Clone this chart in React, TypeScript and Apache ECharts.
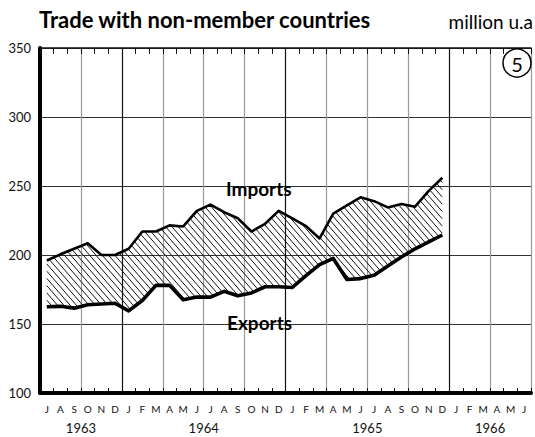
import React, { useEffect, useRef } from "react";
import * as echarts from "echarts";

// Month letters, Jul 1963 .. Jun 1966
const months = [
  "J", "A", "S", "O", "N", "D",
  "J", "F", "M", "A", "M", "J", "J", "A", "S", "O", "N", "D",
  "J", "F", "M", "A", "M", "J", "J", "A", "S", "O", "N", "D",
  "J", "F", "M", "A", "M", "J",
];
// year label placed at month offset (from Jul 1963)
const yearTicks = [3, 12, 24, 33];
const yearNames = ["1963", "1964", "1965", "1966"];

// Monthly values, Jul 1963 .. Dec 1965 (million u.a)
const imports = [
  196, 200.5, 204.5, 208.5, 200, 200,
  204.5, 217, 217, 221.5, 220.7, 232, 236.5, 231, 226.6, 217, 222.6, 232,
  226.5, 221, 212, 230, 236, 241.8, 239, 234.5, 237, 235, 246.5, 256,
];
const exportsV = [
  162.5, 162.8, 161.5, 164, 164.5, 165,
  159.5, 167, 178, 178, 167.5, 169.6, 169.5, 173.7, 170.5, 172.5, 177, 177,
  176.5, 185, 193, 197.5, 182.2, 182.9, 185.3, 192, 198.5, 204.5, 209.5, 214.5,
];

const FONT = "Lato, 'Open Sans', sans-serif";
const HATCH_GAP = 6.3;
const HATCH_SLOPE = 1.15;

function interp(p: number[][], x: number): number {
  if (x <= p[0][0]) return p[0][1];
  for (let k = 0; k < p.length - 1; k++) {
    const a = p[k], b = p[k + 1];
    if (x >= a[0] && x <= b[0]) {
      const t = (x - a[0]) / (b[0] - a[0] || 1);
      return a[1] + t * (b[1] - a[1]);
    }
  }
  return p[p.length - 1][1];
}

function hatchItem(params: any, api: any) {
  const top = imports.map((v, i) => api.coord([i + 0.5, v]));
  const bot = exportsV.map((v, i) => api.coord([i + 0.5, v]));
  const x0 = top[0][0];
  const x1 = top[top.length - 1][0];
  let minT = Infinity, maxB = -Infinity;
  top.forEach((p: number[]) => (minT = Math.min(minT, p[1])));
  bot.forEach((p: number[]) => (maxB = Math.max(maxB, p[1])));
  const yRef = 0;
  const children: any[] = [];
  const cmin = Math.floor((x0 - (maxB - yRef) / HATCH_SLOPE) / HATCH_GAP) * HATCH_GAP;
  const cmax = x1 - (minT - yRef) / HATCH_SLOPE;
  const step = 0.25;
  for (let c = cmin; c <= cmax; c += HATCH_GAP) {
    const xa = Math.max(x0, c + (minT - yRef) / HATCH_SLOPE - 1);
    const xb = Math.min(x1, c + (maxB - yRef) / HATCH_SLOPE + 1);
    let start: number[] | null = null;
    let last: number[] | null = null;
    for (let x = xa; x <= xb + 1e-9; x += step) {
      const y = yRef + HATCH_SLOPE * (x - c);
      const inside = y >= interp(top, x) + 0.8 && y <= interp(bot, x) - 1;
      if (inside) {
        if (!start) start = [x, y];
        last = [x, y];
      } else if (start && last) {
        children.push([start, last]);
        start = null;
        last = null;
      }
    }
    if (start && last) children.push([start, last]);
  }
  return {
    type: "group",
    children: children.map((s) => ({
      type: "line",
      shape: { x1: s[0][0], y1: s[0][1], x2: s[1][0], y2: s[1][1] },
      style: { stroke: "#111", lineWidth: 1 },
    })),
  };
}

export default function App() {
  const ref = useRef<HTMLDivElement>(null);
  useEffect(() => {
    document.body.style.margin = "0";
    if (!ref.current) return;
    const chart = echarts.init(ref.current, undefined, { renderer: "svg" });
    const pts = (arr: number[]) => arr.map((v, i) => [i + 0.5, v]);

    chart.setOption({
      animation: false,
      backgroundColor: "#ffffff",
      textStyle: { fontFamily: FONT },
      grid: { left: 40, right: 4, top: 48, bottom: 44 },
      xAxis: [
        {
          type: "value",
          min: 0,
          max: 36,
          interval: 3,
          position: "bottom",
          axisLine: { show: true, onZero: false, lineStyle: { color: "#000", width: 4 } },
          axisTick: { show: true, inside: true, length: 5, lineStyle: { color: "#000", width: 1 } },
          minorTick: { show: true, splitNumber: 3, length: 5, lineStyle: { color: "#000", width: 1 } },
          splitLine: {
            show: true,
            lineStyle: { color: ["#999", "#999", "#111", "#999"], width: 1.2 },
          },
          axisLabel: {
            show: true,
            margin: 28,
            fontSize: 13,
            color: "#111",
            fontFamily: FONT,
            formatter: (v: number) => {
              const k = yearTicks.indexOf(Math.round(v));
              return k >= 0 ? yearNames[k] : "";
            },
          },
        },
        {
          type: "value",
          min: 0,
          max: 36,
          interval: 1,
          position: "top",
          axisLine: { show: true, onZero: false, lineStyle: { color: "#111", width: 1.5 } },
          axisTick: { show: true, inside: true, length: 6, lineStyle: { color: "#111", width: 1 } },
          splitLine: { show: false },
          axisLabel: { show: false },
        },
        {
          type: "category",
          data: months,
          boundaryGap: true,
          position: "bottom",
          axisLine: { show: false },
          axisTick: { show: false },
          splitLine: { show: false },
          axisLabel: {
            interval: 0,
            margin: 11,
            fontSize: 10,
            color: "#111",
            fontFamily: FONT,
          },
        },
      ],
      yAxis: {
        type: "value",
        min: 100,
        max: 350,
        interval: 50,
        axisLine: { show: true, onZero: false, lineStyle: { color: "#000", width: 4 } },
        axisTick: { show: false },
        splitLine: { show: true, lineStyle: { color: "#333", width: 1.2 } },
        axisLabel: {
          margin: 9,
          fontSize: 13,
          color: "#111",
          fontFamily: FONT,
          verticalAlign: "middle",
          padding: [0, 0, 10, 0],
        },
      },
      series: [
        {
          type: "custom",
          name: "hatch",
          coordinateSystem: "cartesian2d",
          xAxisIndex: 0,
          yAxisIndex: 0,
          data: [[imports.length / 2, imports[0]]],
          renderItem: hatchItem,
          silent: true,
          clip: true,
          z: 3,
        },
        {
          type: "line",
          name: "Imports",
          xAxisIndex: 0,
          data: pts(imports),
          symbol: "none",
          lineStyle: { color: "#000", width: 2.6, join: "round" },
          z: 5,
        },
        {
          type: "line",
          name: "Exports",
          xAxisIndex: 0,
          data: pts(exportsV),
          symbol: "none",
          lineStyle: { color: "#000", width: 3.6, join: "round" },
          z: 5,
        },
      ],
      graphic: [
        {
          type: "text",
          left: 39,
          top: 8,
          style: { text: "Trade with non-member countries", font: `bold 22px ${FONT}`, fill: "#000" },
        },
        {
          type: "text",
          right: 2,
          top: 12,
          style: { text: "million u.a", font: `19px ${FONT}`, fill: "#000" },
        },
        {
          type: "circle",
          shape: { cx: 517, cy: 63, r: 14 },
          style: { fill: "#fff", stroke: "#000", lineWidth: 1.5 },
          z: 10,
        },
        {
          type: "text",
          x: 517,
          y: 64,
          style: { text: "5", font: `20px ${FONT}`, fill: "#000", align: "center", verticalAlign: "middle" },
          z: 11,
        },
        {
          type: "text",
          left: 226,
          top: 179,
          style: { text: "Imports", font: `bold 19px ${FONT}`, fill: "#000" },
          z: 10,
        },
        {
          type: "text",
          left: 227,
          top: 313,
          style: { text: "Exports", font: `bold 19px ${FONT}`, fill: "#000" },
          z: 10,
        },
      ],
    });
    return () => chart.dispose();
  }, []);
  return <div ref={ref} style={{ width: 535, height: 437 }} />;
}
